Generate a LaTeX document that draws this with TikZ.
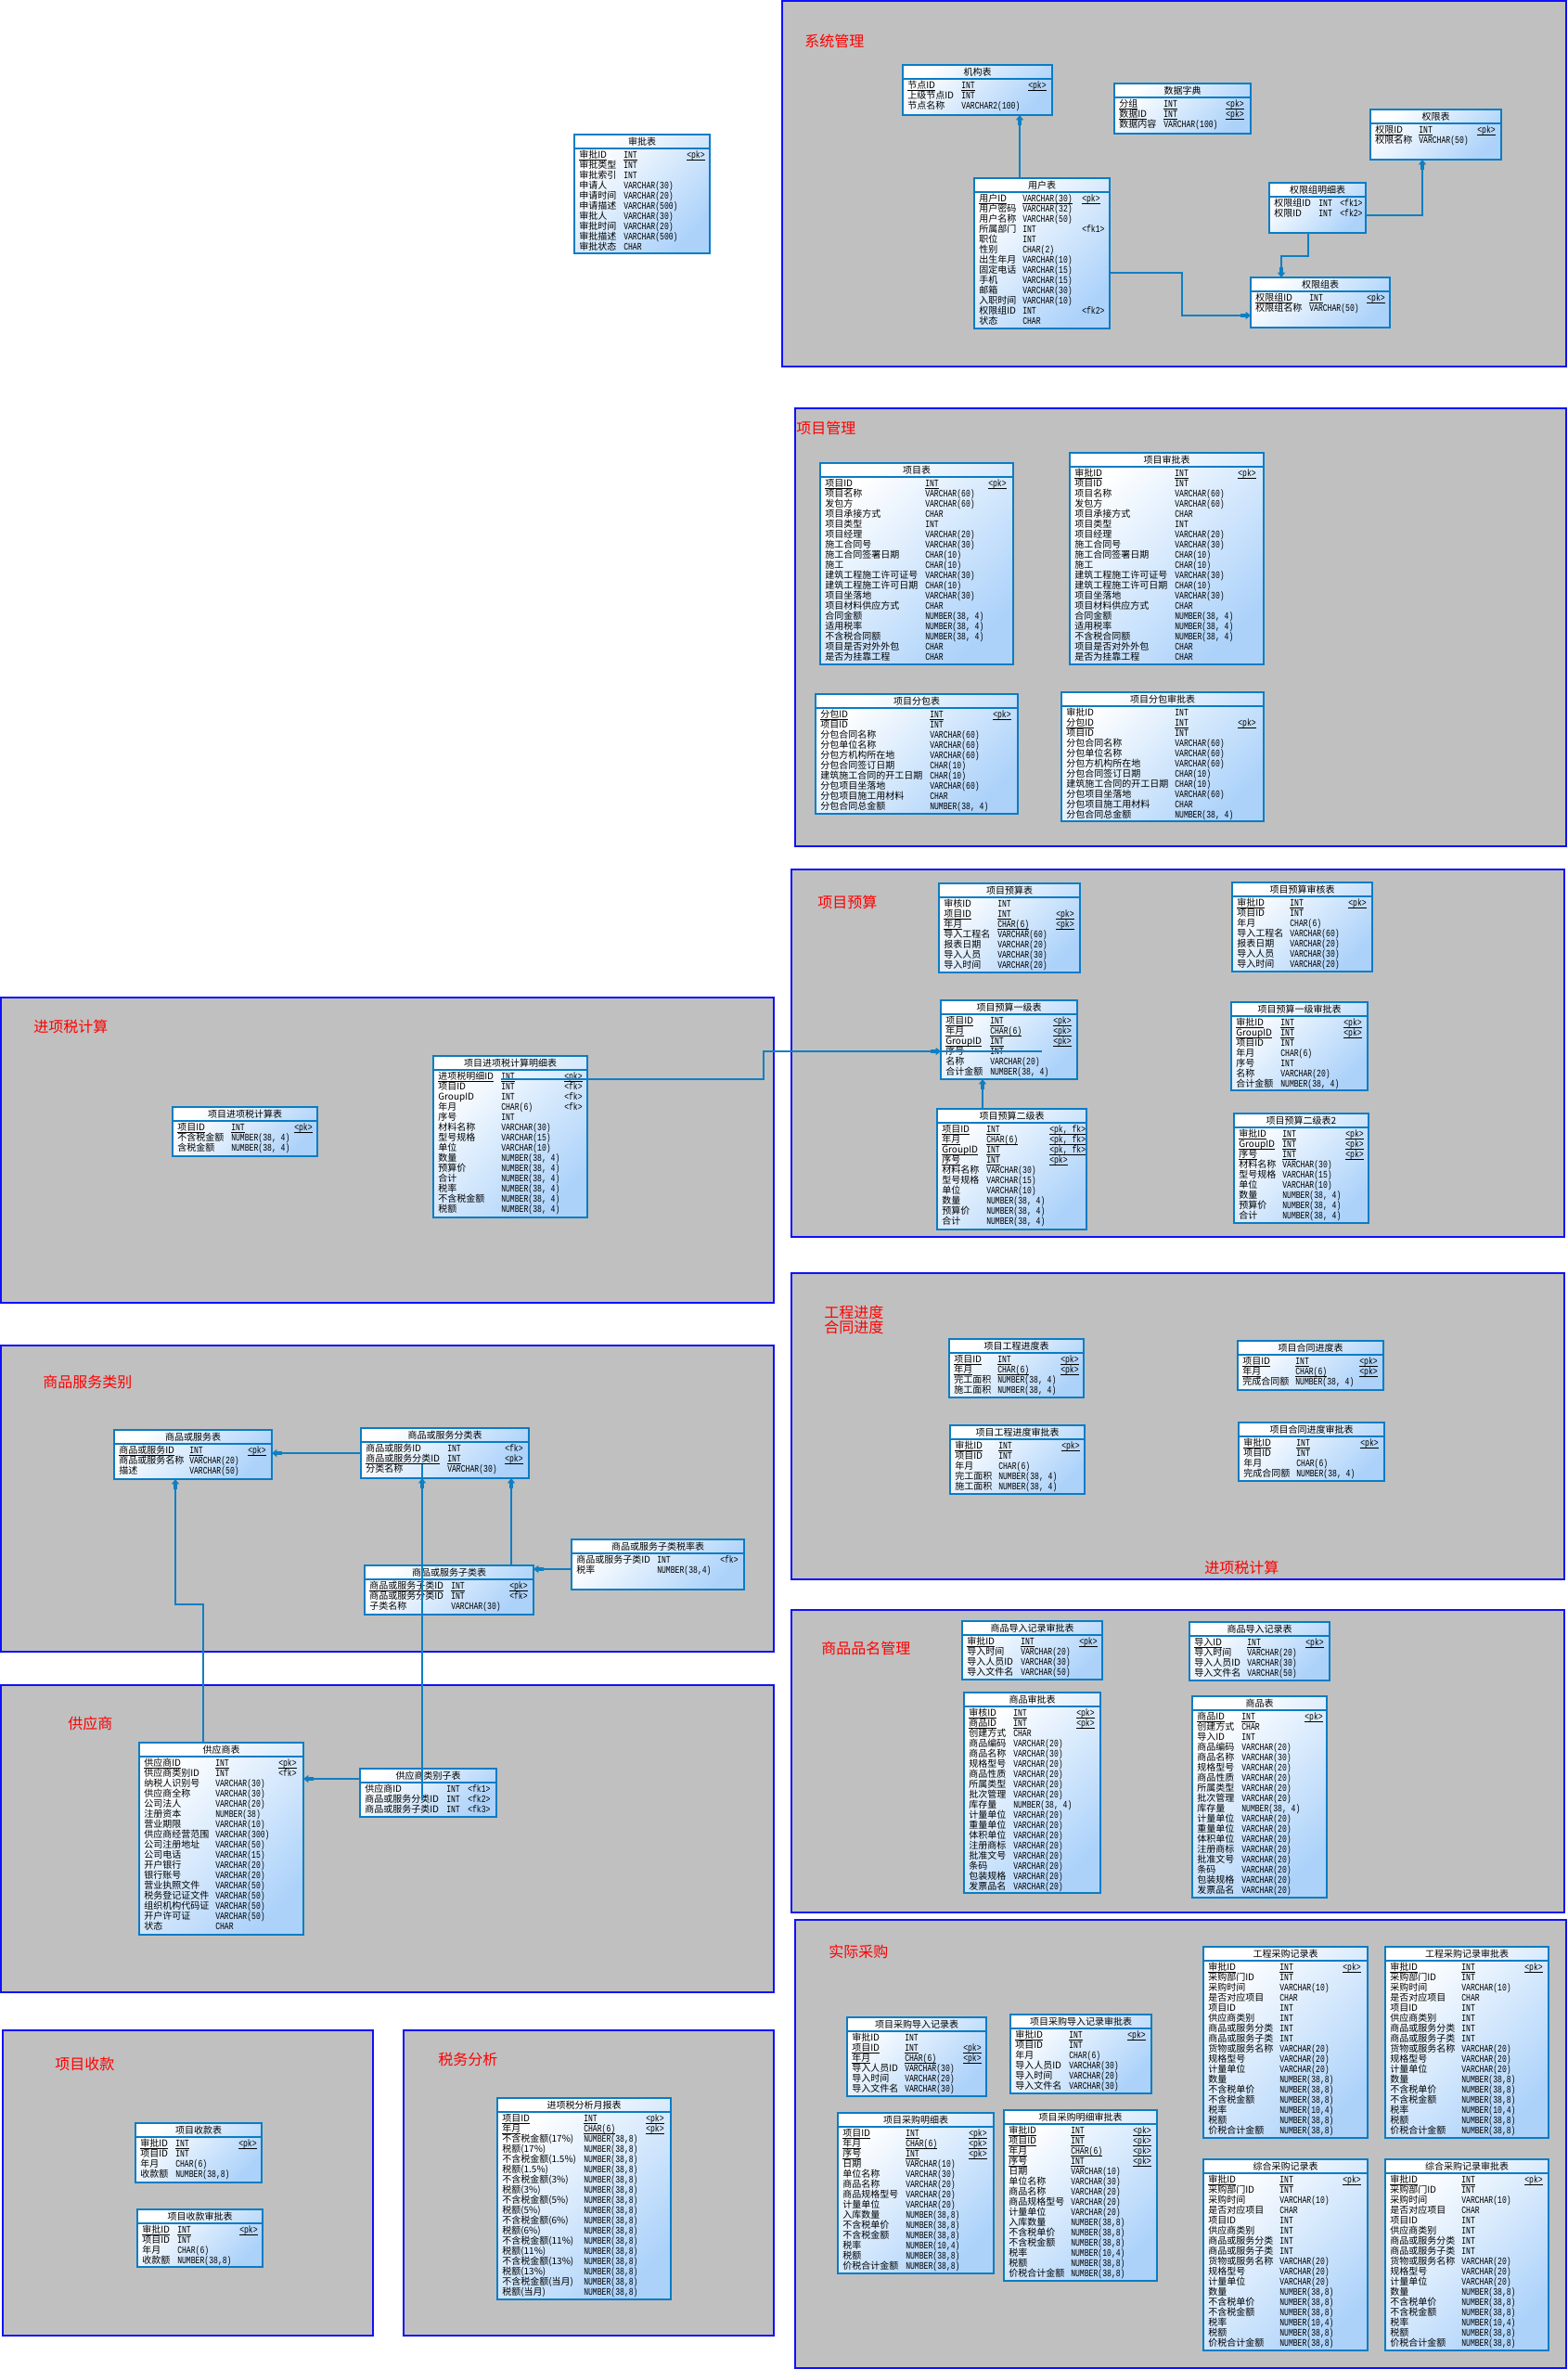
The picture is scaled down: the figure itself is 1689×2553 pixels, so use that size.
\documentclass[tikz,border=0pt]{standalone}
\usepackage{fontspec}
\setmainfont{Noto Sans CJK SC}
\newfontfamily\tyf[FakeStretch=0.75,Scale=1.08]{Liberation Mono}
\usetikzlibrary{arrows.meta,calc}
\definecolor{grpfill}{HTML}{C0C0C0}
\definecolor{grpline}{HTML}{1010F8}
\definecolor{tline}{HTML}{0A7CC4}
\definecolor{tfill}{HTML}{ACD2FA}
\definecolor{conncol}{HTML}{0F7FC2}
\definecolor{ttl}{HTML}{FF0000}
\tikzset{
 grpbox/.style={draw=grpline, fill=grpfill, line width=0.8pt, anchor=north west, inner sep=0pt, outer sep=0pt},
 erbox/.style={draw=tline, line width=1pt, anchor=north west, inner sep=0pt, outer sep=0pt, top color=white, bottom color=tfill, shading angle=45},
 erline/.style={draw=tline, line width=0.9pt},
 ertitle/.style={inner sep=0pt, font=\fontsize{7.5}{8}\selectfont},
 ertxt/.style={inner sep=0pt, anchor=base west, font=\fontsize{7.5}{8}\selectfont},
 grptitle/.style={inner sep=0pt, anchor=west, text=ttl, font=\fontsize{12}{14}\selectfont},
 conn/.style={draw=conncol, line width=0.85pt, -{Rectangle[length=4pt,width=3.4pt,sep=0pt]Triangle[length=4pt,width=6pt]}},
 plainconn/.style={draw=conncol, line width=0.85pt},
}
\newcount\ERi
\newcommand\ERul[1]{\setbox0=\hbox{#1}\rlap{\rule[-1.25pt]{\wd0}{0.45pt}}\box0}
\newcommand\ERgroup[5]{\node[grpbox, minimum width={(#4-#2)*0.75pt}, minimum height={(#5-#3)*0.75pt}] (#1) at (#2,#3) {};}
\newcommand\ERtable[9]{%
  \def\ERid{#1}\def\ERx{#2}\def\ERy{#3}\def\ERtx{#7}\def\ERkx{#8}%
  \global\ERi=0\relax
  \node[erbox, minimum width={(#4-#2)*0.75pt}, minimum height={(#5-#3)*0.75pt}] (#1) at (#2,#3) {};
  \draw[erline] (#1.north west) ++(0,15) -- ++(#4-#2,0);
  \node[ertitle] (#1-title) at ({(#2+#4)/2},#3+7.5) {#6};
  #9}
\newcommand\ERcell[3]{\node[ertxt] (\ERid-\the\ERi-#1) at (#2, \ERy+25.8+11*\the\ERi) {#3};}
\newcommand\ERrow[3]{\ERcell{n}{\ERx+5}{#1}\ERcell{t}{\ERx+\ERtx}{\tyf #2}\ifx\relax#3\relax\else\ERcell{k}{\ERx+\ERkx}{\tyf #3}\fi\global\advance\ERi by 1\relax}
\newcommand\ERpk[3]{\ERcell{n}{\ERx+5}{\ERul{#1}}\ERcell{t}{\ERx+\ERtx}{\ERul{\tyf #2}}\ERcell{k}{\ERx+\ERkx}{\ERul{\tyf #3}}\global\advance\ERi by 1\relax}
\begin{document}
\begin{tikzpicture}[x=0.75pt,y=-0.75pt]
\fill[white] (0,0) rectangle (1689,2553);
\useasboundingbox (0,0) rectangle (1689,2553);
% groups
\ERgroup{g1}{843}{1}{1688}{395}
\ERgroup{g2}{857}{440}{1688}{912}
\ERgroup{g3}{853}{937}{1686}{1333}
\ERgroup{g4}{1}{1075}{834}{1404}
\ERgroup{g5}{853}{1372}{1686}{1702}
\ERgroup{g6}{1}{1450}{834}{1780}
\ERgroup{g7}{853}{1735}{1686}{2061}
\ERgroup{g8}{1}{1816}{834}{2147}
\ERgroup{g9}{857}{2069}{1688}{2552}
\ERgroup{g10}{3}{2188}{402}{2517}
\ERgroup{g11}{435}{2188}{834}{2517}
\node[grptitle] (t1) at (867,44) {系统管理};
\node[grptitle] (t2) at (858,461) {项目管理};
\node[grptitle] (t3) at (881,972) {项目预算};
\node[grptitle] (t4) at (36,1106) {进项税计算};
\node[grptitle] (t5a) at (888,1414) {工程进度};
\node[grptitle] (t5b) at (888,1430) {合同进度};
\node[grptitle] (t5c) at (1298,1689) {进项税计算};
\node[grptitle] (t6) at (46,1489) {商品服务类别};
\node[grptitle] (t7) at (885,1776) {商品品名管理};
\node[grptitle] (t8) at (73,1857) {供应商};
\node[grptitle] (t9) at (893,2103) {实际采购};
\node[grptitle] (t10) at (59,2224) {项目收款};
\node[grptitle] (t11) at (472,2219) {税务分析};
% ---------- system
\ERtable{sp0}{619}{145}{765}{273}{审批表}{53}{121}{
\ERpk{审批ID}{INT}{<pk>}
\ERrow{审批类型}{INT}{}
\ERrow{审批索引}{INT}{}
\ERrow{申请人}{VARCHAR(30)}{}
\ERrow{申请时间}{VARCHAR(20)}{}
\ERrow{申请描述}{VARCHAR(500)}{}
\ERrow{审批人}{VARCHAR(30)}{}
\ERrow{审批时间}{VARCHAR(20)}{}
\ERrow{审批描述}{VARCHAR(500)}{}
\ERrow{审批状态}{CHAR}{}}
\ERtable{jg}{973}{70}{1134}{124}{机构表}{63}{135}{
\ERpk{节点ID}{INT}{<pk>}
\ERrow{上级节点ID}{INT}{}
\ERrow{节点名称}{VARCHAR2(100)}{}}
\ERtable{sjzd}{1201}{90}{1348}{144}{数据字典}{53}{120}{
\ERpk{分组}{INT}{<pk>}
\ERpk{数据ID}{INT}{<pk>}
\ERrow{数据内容}{VARCHAR(100)}{}}
\ERtable{qx}{1477}{118}{1618}{172}{权限表}{52}{115}{
\ERpk{权限ID}{INT}{<pk>}
\ERrow{权限名称}{VARCHAR(50)}{}}
\ERtable{yh}{1050}{192}{1196}{354}{用户表}{52}{116}{
\ERpk{用户ID}{VARCHAR(30)}{<pk>}
\ERrow{用户密码}{VARCHAR(32)}{}
\ERrow{用户名称}{VARCHAR(50)}{}
\ERrow{所属部门}{INT}{<fk1>}
\ERrow{职位}{INT}{}
\ERrow{性别}{CHAR(2)}{}
\ERrow{出生年月}{VARCHAR(10)}{}
\ERrow{固定电话}{VARCHAR(15)}{}
\ERrow{手机}{VARCHAR(15)}{}
\ERrow{邮箱}{VARCHAR(30)}{}
\ERrow{入职时间}{VARCHAR(10)}{}
\ERrow{权限组ID}{INT}{<fk2>}
\ERrow{状态}{CHAR}{}}
\ERtable{mx}{1368}{197}{1472}{251}{权限组明细表}{53}{76}{
\ERrow{权限组ID}{INT}{<fk1>}
\ERrow{权限ID}{INT}{<fk2>}}
\ERtable{qxz}{1348}{299}{1498}{353}{权限组表}{63}{125}{
\ERpk{权限组ID}{INT}{<pk>}
\ERrow{权限组名称}{VARCHAR(50)}{}}
% ---------- project management
\ERtable{xm}{884}{499}{1092}{716}{项目表}{113}{181}{
\ERpk{项目ID}{INT}{<pk>}
\ERrow{项目名称}{VARCHAR(60)}{}
\ERrow{发包方}{VARCHAR(60)}{}
\ERrow{项目承接方式}{CHAR}{}
\ERrow{项目类型}{INT}{}
\ERrow{项目经理}{VARCHAR(20)}{}
\ERrow{施工合同号}{VARCHAR(30)}{}
\ERrow{施工合同签署日期}{CHAR(10)}{}
\ERrow{施工}{CHAR(10)}{}
\ERrow{建筑工程施工许可证号}{VARCHAR(30)}{}
\ERrow{建筑工程施工许可日期}{CHAR(10)}{}
\ERrow{项目坐落地}{VARCHAR(30)}{}
\ERrow{项目材料供应方式}{CHAR}{}
\ERrow{合同金额}{NUMBER(38, 4)}{}
\ERrow{适用税率}{NUMBER(38, 4)}{}
\ERrow{不含税合同额}{NUMBER(38, 4)}{}
\ERrow{项目是否对外外包}{CHAR}{}
\ERrow{是否为挂靠工程}{CHAR}{}}
\ERtable{xmsp}{1153}{488}{1362}{716}{项目审批表}{113}{181}{
\ERpk{审批ID}{INT}{<pk>}
\ERrow{项目ID}{INT}{}
\ERrow{项目名称}{VARCHAR(60)}{}
\ERrow{发包方}{VARCHAR(60)}{}
\ERrow{项目承接方式}{CHAR}{}
\ERrow{项目类型}{INT}{}
\ERrow{项目经理}{VARCHAR(20)}{}
\ERrow{施工合同号}{VARCHAR(30)}{}
\ERrow{施工合同签署日期}{CHAR(10)}{}
\ERrow{施工}{CHAR(10)}{}
\ERrow{建筑工程施工许可证号}{VARCHAR(30)}{}
\ERrow{建筑工程施工许可日期}{CHAR(10)}{}
\ERrow{项目坐落地}{VARCHAR(30)}{}
\ERrow{项目材料供应方式}{CHAR}{}
\ERrow{合同金额}{NUMBER(38, 4)}{}
\ERrow{适用税率}{NUMBER(38, 4)}{}
\ERrow{不含税合同额}{NUMBER(38, 4)}{}
\ERrow{项目是否对外外包}{CHAR}{}
\ERrow{是否为挂靠工程}{CHAR}{}}
\ERtable{fb}{879}{748}{1097}{877}{项目分包表}{123}{191}{
\ERpk{分包ID}{INT}{<pk>}
\ERrow{项目ID}{INT}{}
\ERrow{分包合同名称}{VARCHAR(60)}{}
\ERrow{分包单位名称}{VARCHAR(60)}{}
\ERrow{分包方机构所在地}{VARCHAR(60)}{}
\ERrow{分包合同签订日期}{CHAR(10)}{}
\ERrow{建筑施工合同的开工日期}{CHAR(10)}{}
\ERrow{分包项目坐落地}{VARCHAR(60)}{}
\ERrow{分包项目施工用材料}{CHAR}{}
\ERrow{分包合同总金额}{NUMBER(38, 4)}{}}
\ERtable{fbsp}{1144}{746}{1362}{885}{项目分包审批表}{122}{190}{
\ERrow{审批ID}{INT}{}
\ERpk{分包ID}{INT}{<pk>}
\ERrow{项目ID}{INT}{}
\ERrow{分包合同名称}{VARCHAR(60)}{}
\ERrow{分包单位名称}{VARCHAR(60)}{}
\ERrow{分包方机构所在地}{VARCHAR(60)}{}
\ERrow{分包合同签订日期}{CHAR(10)}{}
\ERrow{建筑施工合同的开工日期}{CHAR(10)}{}
\ERrow{分包项目坐落地}{VARCHAR(60)}{}
\ERrow{分包项目施工用材料}{CHAR}{}
\ERrow{分包合同总金额}{NUMBER(38, 4)}{}}
% ---------- budget
\ERtable{ys}{1012}{952}{1164}{1048}{项目预算表}{63}{126}{
\ERrow{审核ID}{INT}{}
\ERpk{项目ID}{INT}{<pk>}
\ERpk{年月}{CHAR(6)}{<pk>}
\ERrow{导入工程名}{VARCHAR(60)}{}
\ERrow{报表日期}{VARCHAR(20)}{}
\ERrow{导入人员}{VARCHAR(30)}{}
\ERrow{导入时间}{VARCHAR(20)}{}}
\ERtable{yssh}{1328}{951}{1479}{1047}{项目预算审核表}{62}{125}{
\ERpk{审批ID}{INT}{<pk>}
\ERrow{项目ID}{INT}{}
\ERrow{年月}{CHAR(6)}{}
\ERrow{导入工程名}{VARCHAR(60)}{}
\ERrow{报表日期}{VARCHAR(20)}{}
\ERrow{导入人员}{VARCHAR(30)}{}
\ERrow{导入时间}{VARCHAR(20)}{}}
\ERtable{yj}{1014}{1078}{1161}{1163}{项目预算一级表}{53}{121}{
\ERpk{项目ID}{INT}{<pk>}
\ERpk{年月}{CHAR(6)}{<pk>}
\ERpk{GroupID}{INT}{<pk>}
\ERrow{序号}{INT}{}
\ERrow{名称}{VARCHAR(20)}{}
\ERrow{合计金额}{NUMBER(38, 4)}{}}
\ERtable{yjsp}{1327}{1080}{1474}{1175}{项目预算一级审批表}{53}{121}{
\ERpk{审批ID}{INT}{<pk>}
\ERpk{GroupID}{INT}{<pk>}
\ERrow{项目ID}{INT}{}
\ERrow{年月}{CHAR(6)}{}
\ERrow{序号}{INT}{}
\ERrow{名称}{VARCHAR(20)}{}
\ERrow{合计金额}{NUMBER(38, 4)}{}}
\ERtable{ej}{1010}{1195}{1171}{1325}{项目预算二级表}{53}{121}{
\ERpk{项目ID}{INT}{<pk, fk>}
\ERpk{年月}{CHAR(6)}{<pk, fk>}
\ERpk{GroupID}{INT}{<pk, fk>}
\ERpk{序号}{INT}{<pk>}
\ERrow{材料名称}{VARCHAR(30)}{}
\ERrow{型号规格}{VARCHAR(15)}{}
\ERrow{单位}{VARCHAR(10)}{}
\ERrow{数量}{NUMBER(38, 4)}{}
\ERrow{预算价}{NUMBER(38, 4)}{}
\ERrow{合计}{NUMBER(38, 4)}{}}
\ERtable{ejb}{1330}{1200}{1475}{1318}{项目预算二级表2}{52}{120}{
\ERpk{审批ID}{INT}{<pk>}
\ERpk{GroupID}{INT}{<pk>}
\ERpk{序号}{INT}{<pk>}
\ERrow{材料名称}{VARCHAR(30)}{}
\ERrow{型号规格}{VARCHAR(15)}{}
\ERrow{单位}{VARCHAR(10)}{}
\ERrow{数量}{NUMBER(38, 4)}{}
\ERrow{预算价}{NUMBER(38, 4)}{}
\ERrow{合计}{NUMBER(38, 4)}{}}
% ---------- input tax
\ERtable{jxj}{186}{1193}{342}{1246}{项目进项税计算表}{63}{131}{
\ERpk{项目ID}{INT}{<pk>}
\ERrow{不含税金额}{NUMBER(38, 4)}{}
\ERrow{含税金额}{NUMBER(38, 4)}{}}
\ERtable{mxb}{467}{1138}{633}{1312}{项目进项税计算明细表}{73}{141}{
\ERpk{进项税明细ID}{INT}{<pk>}
\ERrow{项目ID}{INT}{<fk>}
\ERrow{GroupID}{INT}{<fk>}
\ERrow{年月}{CHAR(6)}{<fk>}
\ERrow{序号}{INT}{}
\ERrow{材料名称}{VARCHAR(30)}{}
\ERrow{型号规格}{VARCHAR(15)}{}
\ERrow{单位}{VARCHAR(10)}{}
\ERrow{数量}{NUMBER(38, 4)}{}
\ERrow{预算价}{NUMBER(38, 4)}{}
\ERrow{合计}{NUMBER(38, 4)}{}
\ERrow{税率}{NUMBER(38, 4)}{}
\ERrow{不含税金额}{NUMBER(38, 4)}{}
\ERrow{税额}{NUMBER(38, 4)}{}}
% ---------- progress
\ERtable{gcjd}{1023}{1443}{1168}{1506}{项目工程进度表}{52}{120}{
\ERpk{项目ID}{INT}{<pk>}
\ERpk{年月}{CHAR(6)}{<pk>}
\ERrow{完工面积}{NUMBER(38, 4)}{}
\ERrow{施工面积}{NUMBER(38, 4)}{}}
\ERtable{htjd}{1334}{1445}{1491}{1498}{项目合同进度表}{62}{131}{
\ERpk{项目ID}{INT}{<pk>}
\ERpk{年月}{CHAR(6)}{<pk>}
\ERrow{完成合同额}{NUMBER(38, 4)}{}}
\ERtable{gcjdsp}{1024}{1536}{1169}{1610}{项目工程进度审批表}{52}{120}{
\ERpk{审批ID}{INT}{<pk>}
\ERrow{项目ID}{INT}{}
\ERrow{年月}{CHAR(6)}{}
\ERrow{完工面积}{NUMBER(38, 4)}{}
\ERrow{施工面积}{NUMBER(38, 4)}{}}
\ERtable{htjdsp}{1335}{1533}{1492}{1596}{项目合同进度审批表}{62}{131}{
\ERpk{审批ID}{INT}{<pk>}
\ERrow{项目ID}{INT}{}
\ERrow{年月}{CHAR(6)}{}
\ERrow{完成合同额}{NUMBER(38, 4)}{}}
% ---------- goods / services
\ERtable{sp}{123}{1541}{293}{1594}{商品或服务表}{81}{144}{
\ERpk{商品或服务ID}{INT}{<pk>}
\ERrow{商品或服务名称}{VARCHAR(20)}{}
\ERrow{描述}{VARCHAR(50)}{}}
\ERtable{fl}{389}{1539}{570}{1593}{商品或服务分类表}{93}{155}{
\ERrow{商品或服务ID}{INT}{<fk>}
\ERpk{商品或服务分类ID}{INT}{<pk>}
\ERrow{分类名称}{VARCHAR(30)}{}}
\ERtable{zl}{393}{1687}{575}{1740}{商品或服务子类表}{93}{156}{
\ERpk{商品或服务子类ID}{INT}{<pk>}
\ERrow{商品或服务分类ID}{INT}{<fk>}
\ERrow{子类名称}{VARCHAR(30)}{}}
\ERtable{sl}{616}{1659}{802}{1713}{商品或服务子类税率表}{92}{160}{
\ERrow{商品或服务子类ID}{INT}{<fk>}
\ERrow{税率}{NUMBER(38,4)}{}}
% ---------- suppliers
\ERtable{gys}{150}{1878}{327}{2085}{供应商表}{82}{150}{
\ERpk{供应商ID}{INT}{<pk>}
\ERrow{供应商类别ID}{INT}{<fk>}
\ERrow{纳税人识别号}{VARCHAR(30)}{}
\ERrow{供应商全称}{VARCHAR(30)}{}
\ERrow{公司法人}{VARCHAR(20)}{}
\ERrow{注册资本}{NUMBER(38)}{}
\ERrow{营业期限}{VARCHAR(10)}{}
\ERrow{供应商经营范围}{VARCHAR(300)}{}
\ERrow{公司注册地址}{VARCHAR(50)}{}
\ERrow{公司电话}{VARCHAR(15)}{}
\ERrow{开户银行}{VARCHAR(20)}{}
\ERrow{银行账号}{VARCHAR(20)}{}
\ERrow{营业执照文件}{VARCHAR(50)}{}
\ERrow{税务登记证文件}{VARCHAR(50)}{}
\ERrow{组织机构代码证}{VARCHAR(50)}{}
\ERrow{开户许可证}{VARCHAR(50)}{}
\ERrow{状态}{CHAR}{}}
\ERtable{lb}{388}{1906}{535}{1958}{供应商类别子表}{93}{116}{
\ERrow{供应商ID}{INT}{<fk1>}
\ERrow{商品或服务分类ID}{INT}{<fk2>}
\ERrow{商品或服务子类ID}{INT}{<fk3>}}
% ---------- goods names
\ERtable{drsp}{1037}{1747}{1188}{1810}{商品导入记录审批表}{63}{126}{
\ERpk{审批ID}{INT}{<pk>}
\ERrow{导入时间}{VARCHAR(20)}{}
\ERrow{导入人员ID}{VARCHAR(30)}{}
\ERrow{导入文件名}{VARCHAR(50)}{}}
\ERtable{dr}{1282}{1748}{1433}{1811}{商品导入记录表}{62}{125}{
\ERpk{导入ID}{INT}{<pk>}
\ERrow{导入时间}{VARCHAR(20)}{}
\ERrow{导入人员ID}{VARCHAR(30)}{}
\ERrow{导入文件名}{VARCHAR(50)}{}}
\ERtable{spsp}{1039}{1824}{1186}{2040}{商品审批表}{53}{121}{
\ERpk{审核ID}{INT}{<pk>}
\ERpk{商品ID}{INT}{<pk>}
\ERrow{创建方式}{CHAR}{}
\ERrow{商品编码}{VARCHAR(20)}{}
\ERrow{商品名称}{VARCHAR(30)}{}
\ERrow{规格型号}{VARCHAR(20)}{}
\ERrow{商品性质}{VARCHAR(20)}{}
\ERrow{所属类型}{VARCHAR(20)}{}
\ERrow{批次管理}{VARCHAR(20)}{}
\ERrow{库存量}{NUMBER(38, 4)}{}
\ERrow{计量单位}{VARCHAR(20)}{}
\ERrow{重量单位}{VARCHAR(20)}{}
\ERrow{体积单位}{VARCHAR(20)}{}
\ERrow{注册商标}{VARCHAR(20)}{}
\ERrow{批准文号}{VARCHAR(20)}{}
\ERrow{条码}{VARCHAR(20)}{}
\ERrow{包装规格}{VARCHAR(20)}{}
\ERrow{发票品名}{VARCHAR(20)}{}}
\ERtable{spb}{1285}{1828}{1430}{2045}{商品表}{53}{121}{
\ERpk{商品ID}{INT}{<pk>}
\ERrow{创建方式}{CHAR}{}
\ERrow{导入ID}{INT}{}
\ERrow{商品编码}{VARCHAR(20)}{}
\ERrow{商品名称}{VARCHAR(30)}{}
\ERrow{规格型号}{VARCHAR(20)}{}
\ERrow{商品性质}{VARCHAR(20)}{}
\ERrow{所属类型}{VARCHAR(20)}{}
\ERrow{批次管理}{VARCHAR(20)}{}
\ERrow{库存量}{NUMBER(38, 4)}{}
\ERrow{计量单位}{VARCHAR(20)}{}
\ERrow{重量单位}{VARCHAR(20)}{}
\ERrow{体积单位}{VARCHAR(20)}{}
\ERrow{注册商标}{VARCHAR(20)}{}
\ERrow{批准文号}{VARCHAR(20)}{}
\ERrow{条码}{VARCHAR(20)}{}
\ERrow{包装规格}{VARCHAR(20)}{}
\ERrow{发票品名}{VARCHAR(20)}{}}
% ---------- purchasing
\ERtable{cgdr}{913}{2174}{1063}{2259}{项目采购导入记录表}{62}{125}{
\ERrow{审批ID}{INT}{}
\ERpk{项目ID}{INT}{<pk>}
\ERpk{年月}{CHAR(6)}{<pk>}
\ERrow{导入人员ID}{VARCHAR(30)}{}
\ERrow{导入时间}{VARCHAR(20)}{}
\ERrow{导入文件名}{VARCHAR(30)}{}}
\ERtable{cgdrsp}{1089}{2171}{1241}{2256}{项目采购导入记录审批表}{63}{126}{
\ERpk{审批ID}{INT}{<pk>}
\ERrow{项目ID}{INT}{}
\ERrow{年月}{CHAR(6)}{}
\ERrow{导入人员ID}{VARCHAR(30)}{}
\ERrow{导入时间}{VARCHAR(20)}{}
\ERrow{导入文件名}{VARCHAR(30)}{}}
\ERtable{cgmx}{903}{2277}{1071}{2450}{项目采购明细表}{73}{141}{
\ERpk{项目ID}{INT}{<pk>}
\ERpk{年月}{CHAR(6)}{<pk>}
\ERpk{序号}{INT}{<pk>}
\ERrow{日期}{VARCHAR(10)}{}
\ERrow{单位名称}{VARCHAR(30)}{}
\ERrow{商品名称}{VARCHAR(20)}{}
\ERrow{商品规格型号}{VARCHAR(20)}{}
\ERrow{计量单位}{VARCHAR(20)}{}
\ERrow{入库数量}{NUMBER(38,8)}{}
\ERrow{不含税单价}{NUMBER(38,8)}{}
\ERrow{不含税金额}{NUMBER(38,8)}{}
\ERrow{税率}{NUMBER(10,4)}{}
\ERrow{税额}{NUMBER(38,8)}{}
\ERrow{价税合计金额}{NUMBER(38,8)}{}}
\ERtable{cgmxsp}{1082}{2274}{1247}{2458}{项目采购明细审批表}{72}{139}{
\ERpk{审批ID}{INT}{<pk>}
\ERpk{项目ID}{INT}{<pk>}
\ERpk{年月}{CHAR(6)}{<pk>}
\ERpk{序号}{INT}{<pk>}
\ERrow{日期}{VARCHAR(10)}{}
\ERrow{单位名称}{VARCHAR(30)}{}
\ERrow{商品名称}{VARCHAR(20)}{}
\ERrow{商品规格型号}{VARCHAR(20)}{}
\ERrow{计量单位}{VARCHAR(20)}{}
\ERrow{入库数量}{NUMBER(38,8)}{}
\ERrow{不含税单价}{NUMBER(38,8)}{}
\ERrow{不含税金额}{NUMBER(38,8)}{}
\ERrow{税率}{NUMBER(10,4)}{}
\ERrow{税额}{NUMBER(38,8)}{}
\ERrow{价税合计金额}{NUMBER(38,8)}{}}
\newcommand\ERpurch{%
\ERpk{审批ID}{INT}{<pk>}
\ERrow{采购部门ID}{INT}{}
\ERrow{采购时间}{VARCHAR(10)}{}
\ERrow{是否对应项目}{CHAR}{}
\ERrow{项目ID}{INT}{}
\ERrow{供应商类别}{INT}{}
\ERrow{商品或服务分类}{INT}{}
\ERrow{商品或服务子类}{INT}{}
\ERrow{货物或服务名称}{VARCHAR(20)}{}
\ERrow{规格型号}{VARCHAR(20)}{}
\ERrow{计量单位}{VARCHAR(20)}{}
\ERrow{数量}{NUMBER(38,8)}{}
\ERrow{不含税单价}{NUMBER(38,8)}{}
\ERrow{不含税金额}{NUMBER(38,8)}{}
\ERrow{税率}{NUMBER(10,4)}{}
\ERrow{税额}{NUMBER(38,8)}{}
\ERrow{价税合计金额}{NUMBER(38,8)}{}}
\ERtable{gccg}{1297}{2098}{1474}{2304}{工程采购记录表}{82}{150}{\ERpurch}
\ERtable{gccgsp}{1493}{2098}{1669}{2304}{工程采购记录审批表}{82}{150}{\ERpurch}
\ERtable{zhcg}{1297}{2327}{1474}{2533}{综合采购记录表}{82}{150}{\ERpurch}
\ERtable{zhcgsp}{1493}{2327}{1669}{2533}{综合采购记录审批表}{82}{150}{\ERpurch}
% ---------- receipts / tax analysis
\ERtable{sk}{146}{2288}{282}{2352}{项目收款表}{43}{111}{
\ERpk{审批ID}{INT}{<pk>}
\ERrow{项目ID}{INT}{}
\ERrow{年月}{CHAR(6)}{}
\ERrow{收款额}{NUMBER(38,8)}{}}
\ERtable{sksp}{148}{2381}{283}{2443}{项目收款审批表}{43}{110}{
\ERpk{审批ID}{INT}{<pk>}
\ERrow{项目ID}{INT}{}
\ERrow{年月}{CHAR(6)}{}
\ERrow{收款额}{NUMBER(38,8)}{}}
\ERtable{jxfx}{536}{2261}{723}{2478}{进项税分析月报表}{93}{160}{
\ERpk{项目ID}{INT}{<pk>}
\ERpk{年月}{CHAR(6)}{<pk>}
\ERrow{不含税金额(17\%)}{NUMBER(38,8)}{}
\ERrow{税额(17\%)}{NUMBER(38,8)}{}
\ERrow{不含税金额(1.5\%)}{NUMBER(38,8)}{}
\ERrow{税额(1.5\%)}{NUMBER(38,8)}{}
\ERrow{不含税金额(3\%)}{NUMBER(38,8)}{}
\ERrow{税额(3\%)}{NUMBER(38,8)}{}
\ERrow{不含税金额(5\%)}{NUMBER(38,8)}{}
\ERrow{税额(5\%)}{NUMBER(38,8)}{}
\ERrow{不含税金额(6\%)}{NUMBER(38,8)}{}
\ERrow{税额(6\%)}{NUMBER(38,8)}{}
\ERrow{不含税金额(11\%)}{NUMBER(38,8)}{}
\ERrow{税额(11\%)}{NUMBER(38,8)}{}
\ERrow{不含税金额(13\%)}{NUMBER(38,8)}{}
\ERrow{税额(13\%)}{NUMBER(38,8)}{}
\ERrow{不含税金额(当月)}{NUMBER(38,8)}{}
\ERrow{税额(当月)}{NUMBER(38,8)}{}}
% ---------- connectors
\draw[conn] ($(yh.north west)+(49,0)$) -- ($(jg.south west)+(126,0)$);
\draw[conn] ($(yh.north east)+(0,102)$) -- ++(78,0) |- ($(qxz.west)+(0,14)$);
\draw[conn] ($(mx.east)+(0,8)$) -| ($(qx.south west)+(56,0)$);
\draw[conn] ($(mx.south west)+(42,0)$) -- ++(0,25) -- ++(-29,0) -- ($(qxz.north west)+(33,0)$);
\draw[conn] ($(ej.north west)+(49,0)$) -- ($(yj.south west)+(45,0)$);
\draw[conn] ($(mxb.north west)+(73,25)$) -- ($(mxb.north east)+(190,25)$) |- ($(yj.north west)+(0,55)$);
\draw[plainconn] ($(yj.north west)+(0,55)$) -- ++(109,0);
\draw[conn] ($(fl.north west)+(0,27)$) -- ($(sp.north east)+(0,25)$);
\draw[conn] ($(gys.north west)+(69,0)$) -- ++(0,-149) -- ++(-30,0) -- ($(sp.south west)+(66,0)$);
\draw[conn] ($(lb.north west)+(67,34)$) -- ($(fl.south west)+(66,0)$);
\draw[plainconn] ($(fl.south west)+(66,0)$) -- ++(0,-15);
\draw[conn] ($(zl.north west)+(158,0)$) -- ($(fl.south west)+(162,0)$);
\draw[conn] ($(sl.north west)+(0,32)$) -- ($(zl.north east)+(0,4)$);
\draw[conn] ($(lb.north west)+(0,11)$) -- ($(gys.north east)+(0,39)$);
\end{tikzpicture}
\end{document}
